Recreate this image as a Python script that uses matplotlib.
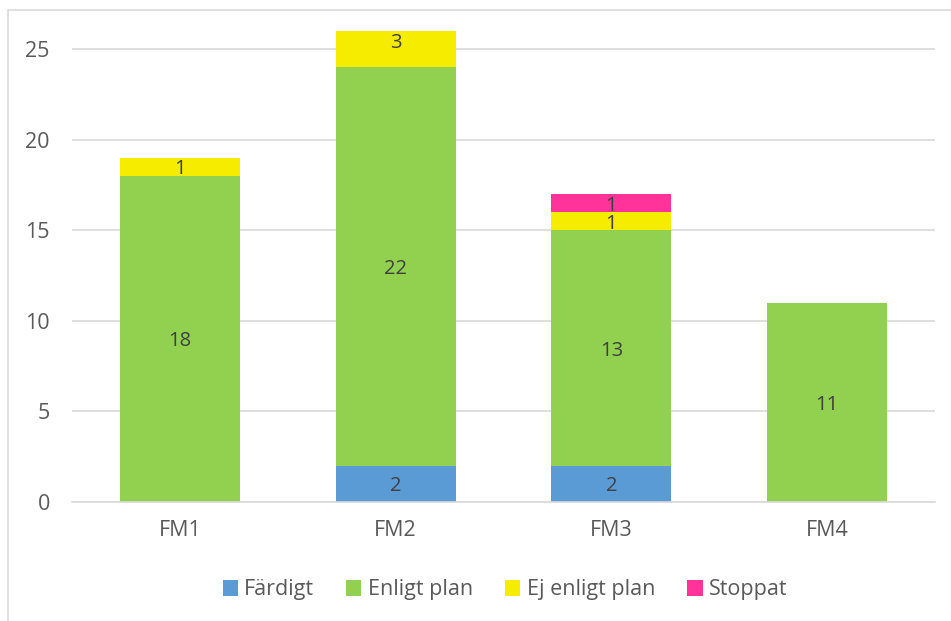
import matplotlib
matplotlib.use("Agg")
import matplotlib.pyplot as plt
from matplotlib.patches import Rectangle, Patch
import numpy as np

categories = ["FM1", "FM2", "FM3", "FM4"]
fardigt = [0, 2, 2, 0]
enligt_plan = [18, 22, 13, 11]
ej_enligt_plan = [1, 3, 1, 0]
stoppat = [0, 0, 1, 0]

series = [
    ("Färdigt", fardigt, "#5B9BD5"),
    ("Enligt plan", enligt_plan, "#92D050"),
    ("Ej enligt plan", ej_enligt_plan, "#F6EC00"),
    ("Stoppat", stoppat, "#FF3399"),
]

plt.rcParams["font.family"] = ["Open Sans", "DejaVu Sans"]
TEXT_C = "#595959"
LABEL_C = "#404040"
FS = 15.5
LABEL_FS = 14.5

fig = plt.figure(figsize=(9.51, 6.21), dpi=100)
ax = fig.add_axes([72 / 951, 1 - 502 / 621, (935 - 72) / 951, (502 - 31) / 621])

x = np.arange(len(categories))
bottom = np.zeros(len(categories))
for name, vals, color in series:
    vals = np.asarray(vals, dtype=float)
    ax.bar(x, vals, 0.557, bottom=bottom, color=color, label=name, zorder=2)
    for xi, b, v in zip(x, bottom, vals):
        if v > 0:
            ax.text(xi, b + v / 2, f"{int(v)}", ha="center", va="center_baseline",
                    fontsize=LABEL_FS, color=LABEL_C, zorder=3)
    bottom += vals

ax.set_xlim(-0.5, len(categories) - 0.5)
ax.set_ylim(0, 26)
ax.set_yticks([0, 5, 10, 15, 20, 25])
ax.set_xticks(x)
ax.set_xticklabels(categories)
ax.yaxis.grid(True, color="#d9d9d9", lw=1.2, zorder=0)
ax.set_axisbelow(True)
for s in ["top", "right", "left"]:
    ax.spines[s].set_visible(False)
ax.spines["bottom"].set_color("#d9d9d9")
ax.spines["bottom"].set_linewidth(1.2)
ax.tick_params(axis="both", length=0, labelsize=FS, colors=TEXT_C)
ax.tick_params(axis="y", pad=16)
ax.tick_params(axis="x", pad=13)

# chart border
fig.add_artist(Rectangle((8 / 951, -0.05), 1.1, 1 - 10 / 621 + 0.05,
                         transform=fig.transFigure, fill=False,
                         edgecolor="#d9d9d9", lw=1.2))

handles = [Patch(facecolor=c, label=n) for n, _, c in series]
fig.legend(handles=handles, loc="center", bbox_to_anchor=(505 / 951, 1 - 590 / 621),
           ncol=4, frameon=False, fontsize=FS, handlelength=0.7, handleheight=0.7,
           handletextpad=0.3, columnspacing=1.5, labelcolor=TEXT_C)

fig.savefig("out.png", dpi=100)
